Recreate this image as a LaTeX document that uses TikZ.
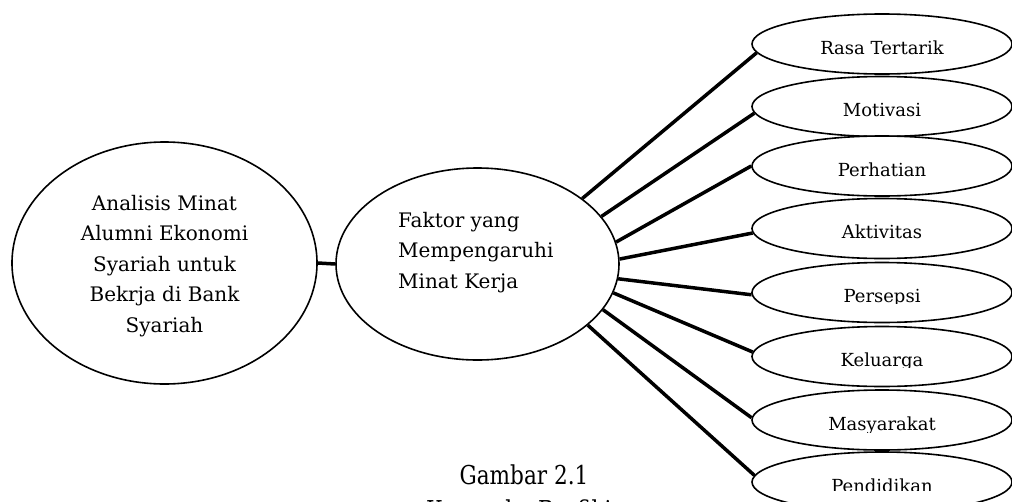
\documentclass[tikz,border=0pt]{standalone}
\usepackage{fontspec}
\setmainfont{DejaVu Serif}
\newfontfamily\capfont[FakeStretch=0.83]{DejaVu Serif}
\usetikzlibrary{shapes.geometric}
\begin{document}
\begin{tikzpicture}[x=1pt,y=-1pt,
  ell/.style={draw, ellipse, line width=1.6pt, fill=white, inner sep=0pt},
  conn/.style={line width=3.5pt},
  lbl/.style={font=\fontsize{20}{30.5}\selectfont, inner sep=0pt},
  slbl/.style={font=\fontsize{18}{20}\selectfont, inner sep=0pt, anchor=base},
  captxt/.style={font=\capfont\fontsize{26}{30}\selectfont, inner sep=0pt, anchor=base},
  small/.style={ell, minimum width=260pt, minimum height=60pt}
]
\useasboundingbox (0,0) rectangle (1012,501);
\clip (0,0) rectangle (1012,501);

% main ellipses
\node[ell, minimum width=305pt, minimum height=242pt] (goal) at (164.5,263) {};
\node[lbl, align=center] (goaltxt) at (164.5,266) {Analisis Minat\\Alumni Ekonomi\\Syariah untuk\\Bekrja di Bank\\Syariah};
\node[ell, minimum width=283pt, minimum height=192pt] (fak) at (477.5,264) {};
\node[lbl, align=left, anchor=north west] (faktxt) at (398,212) {Faktor yang\\Mempengaruhi\\Minat Kerja};

% factor ellipses
\foreach \n/\y/\t/\c in {s1/44/Rasa Tertarik/600, s2/106.5/Motivasi/116.5, s3/166/Perhatian/600, s4/228.5/Aktivitas/600, s5/292.5/Persepsi/303, s6/356.5/Keluarga/367, s7/420/Masyarakat/432, s8/482/Pendidikan/490}{
  \node[small] (\n) at (882,\y) {};
  \begin{scope}
    \clip (740,\y-40) rectangle (1012,\c);
    \node[slbl] (\n t) at (882,\y+10) {\t};
  \end{scope}
}

% connectors
\draw[conn] (goal.east) -- (fak.west);
\draw[conn] (fak.32) -- (s1.184);
\draw[conn] (fak.21) -- (s2.183);
\draw[conn] (fak.9) -- (s3.west);
\draw[conn] (fak.2) -- (s4.182);
\draw[conn] (fak.-6) -- (s5.181);
\draw[conn] (fak.-12) -- (s6.178);
\draw[conn] (fak.-20) -- (s7.179);
\draw[conn] (fak.-29) -- (s8.177);

% caption
\node[captxt] (cap1) at (524,484) {Gambar 2.1};
\node[captxt] (cap2) at (524,519) {Kerangka Berfikir};
\end{tikzpicture}
\end{document}
